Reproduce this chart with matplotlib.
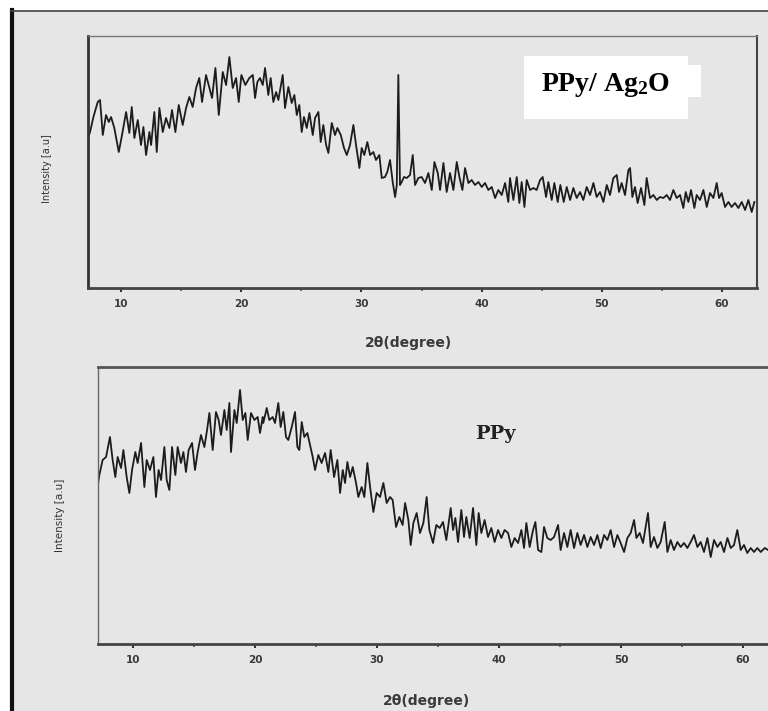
import matplotlib
matplotlib.use("Agg")
import matplotlib.pyplot as plt
from matplotlib.patches import Rectangle
from matplotlib.lines import Line2D
from matplotlib.ticker import MultipleLocator

plt.rcParams['mathtext.fontset'] = 'custom'
plt.rcParams['mathtext.rm'] = 'Liberation Serif:bold'
plt.rcParams['mathtext.it'] = 'Liberation Serif:bold'
plt.rcParams['mathtext.bf'] = 'Liberation Serif:bold'

# PPy/Ag2O pattern (2theta in degrees, intensity in a.u.)
composite_2theta = [
    7.25, 7.42, 7.70, 8.06, 8.25, 8.48, 8.75, 8.98, 9.17, 9.44, 9.81, 10.08,
    10.42, 10.69, 10.89, 11.11, 11.39, 11.66, 11.86, 12.08, 12.36, 12.50, 12.77,
    12.97, 13.19, 13.47, 13.74, 14.02, 14.24, 14.52, 14.80, 15.13, 15.41, 15.68,
    15.96, 16.24, 16.51, 16.74, 17.07, 17.35, 17.57, 17.85, 18.13, 18.46, 18.74,
    19.01, 19.29, 19.57, 19.79, 20.01, 20.34, 20.67, 20.96, 21.15, 21.34, 21.56,
    21.79, 21.98, 22.25, 22.45, 22.67, 22.90, 23.09, 23.45, 23.64, 23.92, 24.20,
    24.42, 24.62, 24.83, 25.03, 25.22, 25.45, 25.67, 25.95, 26.14, 26.42, 26.61,
    26.83, 27.06, 27.25, 27.53, 27.80, 28.00, 28.28, 28.55, 28.78, 29.05, 29.33,
    29.55, 29.83, 30.02, 30.24, 30.49, 30.72, 30.99, 31.21, 31.49, 31.69, 31.96,
    32.15, 32.38, 32.60, 32.80, 32.94, 33.07, 33.21, 33.35, 33.54, 33.77, 34.04,
    34.27, 34.46, 34.73, 35.01, 35.29, 35.57, 35.85, 36.07, 36.35, 36.54, 36.82,
    37.09, 37.37, 37.65, 37.93, 38.15, 38.40, 38.62, 38.90, 39.17, 39.45, 39.73,
    40.01, 40.28, 40.56, 40.84, 41.12, 41.39, 41.67, 41.95, 42.22, 42.36, 42.64,
    42.92, 43.14, 43.33, 43.56, 43.75, 44.03, 44.30, 44.58, 44.86, 45.08, 45.36,
    45.55, 45.83, 46.05, 46.33, 46.55, 46.83, 47.08, 47.36, 47.63, 47.91, 48.19,
    48.46, 48.74, 49.02, 49.30, 49.57, 49.85, 50.13, 50.41, 50.68, 50.96, 51.24,
    51.43, 51.65, 51.93, 52.21, 52.35, 52.54, 52.76, 52.98, 53.26, 53.54, 53.73,
    54.01, 54.29, 54.57, 54.84, 55.12, 55.40, 55.67, 55.95, 56.23, 56.51, 56.78,
    56.98, 57.20, 57.42, 57.70, 57.89, 58.17, 58.45, 58.73, 59.00, 59.28, 59.56,
    59.75, 59.97, 60.25, 60.53, 60.80, 61.08, 61.36, 61.64, 61.92, 62.19, 62.47,
    62.69,
]
composite_intensity = [
    150, 156, 171, 186, 188, 153, 173, 166, 171, 160, 136, 153,
    176, 155, 181, 150, 168, 143, 161, 133, 156, 143, 176,
    136, 180, 156, 170, 160, 178, 156, 183, 163, 180, 191,
    181, 200, 210, 186, 213, 200, 190, 220, 173, 216, 203,
    231, 200, 210, 186, 213, 203, 210, 213, 190, 206, 210,
    203, 220, 193, 210, 186, 196, 188, 213, 180, 201, 185,
    193, 173, 183, 156, 171, 160, 175, 153, 170, 176, 146,
    163, 143, 135, 165, 153, 160, 153, 140, 133, 143, 163,
    143, 120, 140, 133, 146, 133, 136, 128, 133, 110, 111,
    116, 128, 106, 91, 103, 213, 103, 106, 111, 110, 113,
    133, 103, 110, 111, 105, 115, 98, 126, 115, 98, 125,
    96, 115, 98, 126, 111, 98, 120, 105, 108, 103, 106,
    101, 105, 98, 101, 90, 98, 93, 105, 86, 110, 88,
    111, 85, 106, 81, 108, 98, 100, 98, 108, 111, 91,
    106, 88, 105, 86, 103, 86, 101, 88, 100, 90, 96,
    88, 101, 93, 105, 91, 96, 86, 103, 93, 110, 113,
    96, 105, 93, 118, 120, 91, 101, 85, 100, 83, 110,
    90, 93, 88, 91, 90, 93, 88, 98, 90, 93, 80,
    96, 86, 98, 80, 93, 88, 98, 81, 95, 90, 105,
    90, 95, 81, 86, 81, 85, 80, 86, 78, 88, 76,
    86,
]

# pure PPy pattern
ppy_2theta = [
    7.13, 7.24, 7.51, 7.79, 8.11, 8.33, 8.55, 8.74, 9.02, 9.21, 9.48, 9.70,
    9.92, 10.19, 10.38, 10.66, 10.93, 11.12, 11.39, 11.67, 11.88, 12.10, 12.30,
    12.57, 12.76, 12.98, 13.20, 13.47, 13.66, 13.93, 14.13, 14.34, 14.56, 14.84,
    15.08, 15.30, 15.57, 15.85, 16.07, 16.26, 16.53, 16.80, 17.02, 17.21, 17.49,
    17.68, 17.90, 18.03, 18.31, 18.50, 18.77, 18.99, 19.21, 19.40, 19.67, 19.95,
    20.22, 20.41, 20.63, 20.68, 20.96, 21.17, 21.45, 21.64, 21.91, 22.10, 22.32,
    22.54, 22.73, 23.01, 23.28, 23.47, 23.63, 23.83, 24.04, 24.29, 24.51, 24.73,
    24.92, 25.19, 25.46, 25.74, 26.01, 26.20, 26.48, 26.75, 26.97, 27.19, 27.38,
    27.57, 27.79, 28.01, 28.28, 28.47, 28.74, 28.96, 29.21, 29.43, 29.70, 29.97,
    30.25, 30.52, 30.79, 31.07, 31.28, 31.56, 31.83, 32.10, 32.30, 32.57, 32.76,
    32.98, 33.25, 33.52, 33.80, 34.07, 34.29, 34.59, 34.86, 35.14, 35.41, 35.68,
    36.04, 36.23, 36.42, 36.64, 36.91, 37.13, 37.32, 37.59, 37.87, 38.14, 38.33,
    38.55, 38.82, 39.10, 39.37, 39.64, 39.92, 40.19, 40.46, 40.74, 41.01, 41.28,
    41.56, 41.83, 42.05, 42.24, 42.51, 42.79, 42.98, 43.20, 43.47, 43.69, 43.96,
    44.23, 44.51, 44.84, 45.05, 45.33, 45.60, 45.87, 46.15, 46.42, 46.69, 46.97,
    47.24, 47.51, 47.79, 48.06, 48.33, 48.61, 48.88, 49.15, 49.43, 49.70, 49.97,
    50.25, 50.52, 50.79, 51.07, 51.26, 51.53, 51.80, 52.21, 52.43, 52.70, 52.98,
    53.25, 53.58, 53.80, 54.07, 54.34, 54.62, 54.89, 55.16, 55.44, 55.71, 55.98,
    56.26, 56.53, 56.80, 57.08, 57.35, 57.62, 57.90, 58.17, 58.44, 58.72, 58.99,
    59.26, 59.53, 59.81, 60.08, 60.35, 60.63, 60.90, 61.17, 61.45, 61.78, 62.05,
]
ppy_intensity = [
    160, 169, 184, 187, 207, 184, 167, 187, 176, 194, 167, 151,
    174, 192, 181, 201, 157, 184, 174, 187, 147, 174, 164,
    197, 164, 154, 197, 169, 197, 181, 192, 172, 194, 201,
    174, 192, 209, 197, 214, 231, 194, 232, 224, 209, 234,
    214, 241, 192, 234, 221, 254, 224, 231, 204, 231, 224,
    227, 211, 227, 221, 236, 224, 227, 221, 241, 217, 232,
    207, 204, 217, 232, 197, 194, 222, 207, 211, 199, 187,
    174, 189, 181, 191, 172, 194, 167, 184, 151, 174, 161,
    182, 167, 177, 161, 147, 157, 147, 181, 157, 132, 151,
    147, 161, 141, 147, 144, 117, 127, 119, 141, 124, 99,
    121, 131, 111, 121, 147, 114, 101, 119, 116, 122, 104,
    136, 114, 126, 102, 134, 107, 127, 106, 136, 99, 131,
    111, 124, 107, 116, 102, 114, 106, 114, 111, 97, 106,
    101, 114, 96, 121, 97, 114, 122, 94, 92, 117, 106,
    104, 107, 119, 94, 111, 97, 114, 96, 111, 99, 109,
    97, 107, 99, 109, 96, 109, 104, 114, 97, 109, 101,
    92, 106, 111, 124, 106, 111, 101, 131, 97, 107, 96,
    102, 122, 92, 104, 94, 102, 97, 101, 96, 102, 109,
    97, 102, 92, 106, 87, 104, 97, 102, 92, 106, 96,
    99, 114, 94, 99, 91, 96, 92, 96, 92, 96, 94,
]

major_ticks = [10, 20, 30, 40, 50, 60]
tick_labels = ['10', '20', '30', '40', '50', '60']

bg = '#e6e6e6'
W, H = 768, 711

fig = plt.figure(figsize=(W / 100, H / 100), dpi=100, facecolor='white')


def fx(px):
    return px / W


def fy(py):
    return 1 - py / H


# grey scanned page + frame
fig.patches.append(Rectangle((fx(12), 0), 1 - fx(12), fy(11), transform=fig.transFigure,
                             facecolor=bg, edgecolor='none', zorder=-5))
fig.lines.append(Line2D([fx(12), fx(12)], [0, fy(10)], transform=fig.transFigure,
                        color='#111111', lw=3.0, zorder=5))
fig.lines.append(Line2D([fx(11), 1], [fy(10.5), fy(10.5)], transform=fig.transFigure,
                        color='#444444', lw=1.2, zorder=5))


def style_axes(ax, xlim, ylim, label_size):
    ax.set_facecolor(bg)
    ax.set_xlim(*xlim)
    ax.set_ylim(*ylim)
    ax.set_yticks([])
    ax.set_xticks(major_ticks)
    ax.set_xticklabels(tick_labels, fontsize=label_size, fontweight='bold', color='#3a3a3a')
    ax.xaxis.set_minor_locator(MultipleLocator(5))
    ax.tick_params(axis='x', which='major', direction='out', length=3, width=1.5,
                   color='#333333', pad=5)
    ax.tick_params(axis='x', which='minor', direction='out', length=2, width=1.2,
                   color='#555555')


# top panel: PPy/Ag2O
ax1 = fig.add_axes([fx(88), fy(288), fx(757) - fx(88), fy(36) - fy(288)])
style_axes(ax1, (7.25, 62.91), (0, 252), 7.5)
ax1.plot(composite_2theta, composite_intensity, color='#1c1c1c', lw=1.3)
ax1.spines['left'].set(linewidth=2.0, color='#333333')
ax1.spines['bottom'].set(linewidth=2.0, color='#444444')
ax1.spines['top'].set(linewidth=1.0, color='#777777')
ax1.spines['right'].set(linewidth=1.5, color='#444444')
ax1.set_xlabel('2θ(degree)', fontsize=10, fontweight='bold', color='#3a3a3a')
ax1.xaxis.set_label_coords((409 - 88) / (757 - 88), -(336 - 288) / 252, transform=ax1.transAxes)
ax1.set_ylabel('Intensity [a.u]', fontsize=7, color='#333333')
ax1.yaxis.set_label_coords(-(88 - 52) / (757 - 88), (288 - 169) / 252, transform=ax1.transAxes)

# bottom panel: PPy
ax2 = fig.add_axes([fx(98), fy(644), fx(775) - fx(98), fy(367) - fy(644)])
style_axes(ax2, (7.13, 62.62), (0, 277), 7.5)
ax2.plot(ppy_2theta, ppy_intensity, color='#1c1c1c', lw=1.3)
ax2.spines['left'].set(linewidth=1.0, color='#666666')
ax2.spines['bottom'].set(linewidth=2.0, color='#444444')
ax2.spines['top'].set(linewidth=2.0, color='#555555')
ax2.spines['right'].set_visible(False)
ax2.set_xlabel('2θ(degree)', fontsize=10, fontweight='bold', color='#3a3a3a')
ax2.xaxis.set_label_coords((426 - 98) / (775 - 98), -(694 - 644) / 277, transform=ax2.transAxes)
ax2.set_ylabel('Intensity [a.u]', fontsize=7.5, color='#333333')
ax2.yaxis.set_label_coords(-(98 - 65) / (775 - 98), (644 - 515) / 277, transform=ax2.transAxes)

# white label box on top panel
fig.patches.append(Rectangle((fx(524), fy(119)), fx(688) - fx(524), fy(56) - fy(119),
                             transform=fig.transFigure, facecolor='white', edgecolor='none', zorder=3))
fig.patches.append(Rectangle((fx(686), fy(97)), fx(701) - fx(686), fy(65) - fy(97),
                             transform=fig.transFigure, facecolor='white', edgecolor='none', zorder=3))
fig.text(fx(606), fy(91), r'PPy/ Ag$_{\mathrm{2}}$O', family='Liberation Serif', fontweight='bold',
         fontsize=20, ha='center', va='baseline', color='black', zorder=4)
fig.text(fx(495), fy(439), 'PPy', family='DejaVu Serif', fontweight='bold',
         fontsize=14, ha='center', va='baseline', color='#222222', zorder=4)

fig.savefig('out.png', dpi=100, facecolor='white')
